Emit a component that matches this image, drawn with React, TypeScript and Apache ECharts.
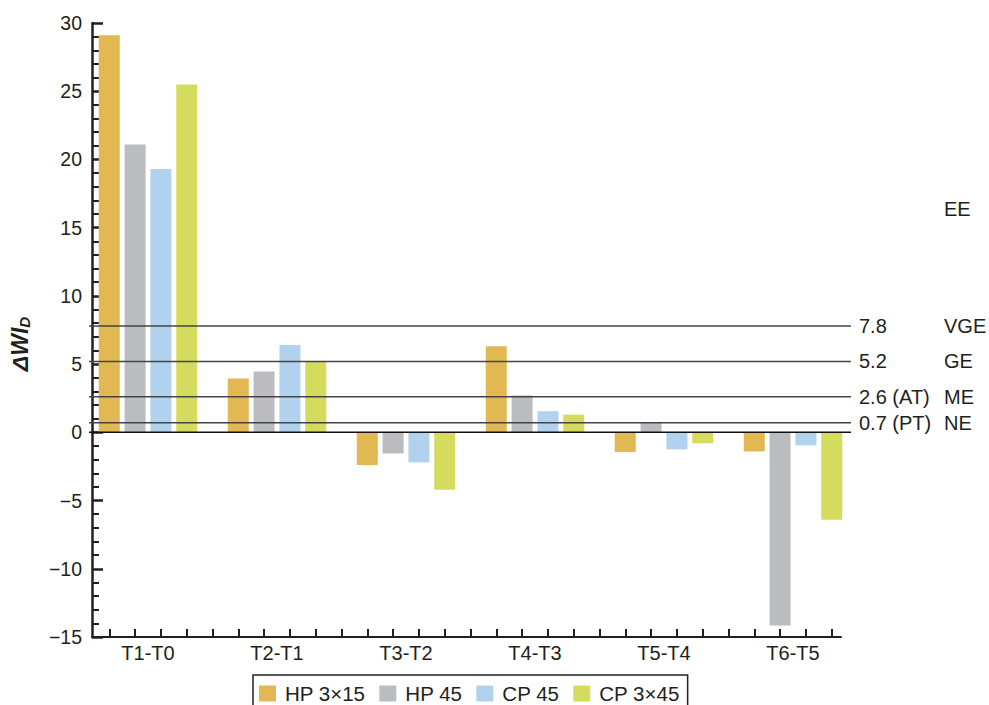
import React, { useEffect, useRef } from "react";
import * as echarts from "echarts";

const categories = ["T1-T0", "T2-T1", "T3-T2", "T4-T3", "T5-T4", "T6-T5"];
const seriesNames = ["HP 3×15", "HP 45", "CP 45", "CP 3×45"];
const hp315 = [29.1, 3.95, -2.4, 6.3, -1.45, -1.4];
const hp45 = [21.1, 4.45, -1.55, 2.7, 0.75, -14.15];
const cp45 = [19.3, 6.4, -2.2, 1.55, -1.25, -0.95];
const cp345 = [25.5, 5.2, -4.2, 1.3, -0.8, -6.4];
const seriesColors = ["#E1B852", "#BBBCC0", "#B0D2EE", "#D4DB5D"];
const refValues = [7.8, 5.2, 2.6, 0.7];
const refLabels = ["7.8", "5.2", "2.6 (AT)", "0.7 (PT)"];
const refClasses = ["VGE", "GE", "ME", "NE"];
const eeLevel = 16.4;
const eeLabel = "EE";
const yMin = -15;
const yMax = 30;
const yInterval = 5;

const FONT = "'Liberation Sans', Arial, Helvetica, sans-serif";
const INK = "#231f20";

export default function App() {
  const ref = useRef<HTMLDivElement>(null);
  useEffect(() => {
    if (!ref.current) return;
    const chart = echarts.init(ref.current, null, { renderer: "svg" });
    const values = [hp315, hp45, cp45, cp345];
    const top = 23;
    const height = 614;
    const barSeries = values.map((d, i) => ({
      name: seriesNames[i],
      type: "bar",
      xAxisIndex: 0,
      yAxisIndex: 0,
      data: d,
      barWidth: 21,
      barGap: "23%",
      itemStyle: { color: seriesColors[i] },
      z: 2,
    }));
    const refSeries = refValues.map((v, i) => ({
      type: "line",
      xAxisIndex: 3,
      yAxisIndex: 3,
      data: [
        [0, v],
        [1, v],
      ],
      symbol: "none",
      silent: true,
      lineStyle: { color: "#444", width: 1.5 },
      z: 5,
      endLabel: {
        show: true,
        distance: 8,
        formatter: () => `{a|${refLabels[i]}}{b|${refClasses[i]}}`,
        rich: {
          a: { width: 85, fontSize: 20, fontFamily: FONT, color: INK },
          b: { fontSize: 20, fontFamily: FONT, color: INK },
        },
      },
    }));
    const zeroSeries = {
      type: "line",
      xAxisIndex: 3,
      yAxisIndex: 3,
      data: [
        [0, 0],
        [1, 0],
      ],
      symbol: "none",
      silent: true,
      lineStyle: { color: "#111", width: 1.5 },
      z: 5,
    };
    const eeSeries = {
      type: "line",
      xAxisIndex: 3,
      yAxisIndex: 3,
      data: [
        [0, eeLevel],
        [1, eeLevel],
      ],
      symbol: "none",
      silent: true,
      lineStyle: { opacity: 0 },
      endLabel: {
        show: true,
        distance: 8,
        formatter: () => `{a|}{b|${eeLabel}}`,
        rich: {
          a: { width: 85, fontSize: 20, fontFamily: FONT },
          b: { fontSize: 20, fontFamily: FONT, color: INK },
        },
      },
    };
    const hiddenY = (gridIndex: number) => ({
      gridIndex,
      type: "value",
      min: yMin,
      max: yMax,
      interval: yInterval,
      show: false,
    });
    chart.setOption({
      animation: false,
      textStyle: { fontFamily: FONT },
      grid: [
        { left: 83.5, top, width: 774, height },
        { left: 89, top, width: 752, height },
        { left: 109.3, top, width: 722.4, height },
        { left: 89, top, width: 762, height },
      ],
      xAxis: [
        {
          gridIndex: 0,
          type: "category",
          data: categories,
          axisLine: { show: false },
          axisTick: { show: false },
          axisLabel: { fontSize: 20, margin: 6, color: INK, fontFamily: FONT },
        },
        {
          gridIndex: 1,
          type: "value",
          min: 0,
          max: 1,
          axisLine: { show: true, onZero: false, lineStyle: { color: INK, width: 2 } },
          axisTick: { show: false },
          axisLabel: { show: false },
          splitLine: { show: false },
        },
        {
          gridIndex: 2,
          type: "value",
          min: 0,
          max: 28,
          interval: 1,
          axisLine: { show: false, onZero: false },
          axisTick: { show: true, inside: true, length: 8, lineStyle: { color: INK, width: 2 } },
          axisLabel: { show: false },
          splitLine: { show: false },
        },
        { gridIndex: 3, type: "value", min: 0, max: 1, show: false },
      ],
      yAxis: [
        hiddenY(0),
        {
          gridIndex: 1,
          type: "value",
          min: yMin,
          max: yMax,
          interval: yInterval,
          name: "{a|ΔWI}{b|D}",
          nameLocation: "middle",
          nameGap: 60,
          nameTextStyle: {
            padding: [0, 28, 0, 0],
            rich: {
              a: { fontSize: 23, fontWeight: "bold", fontStyle: "italic", fontFamily: FONT, color: INK },
              b: { fontSize: 15, fontWeight: "bold", fontStyle: "italic", fontFamily: FONT, color: INK, padding: [10, 0, 0, 0] },
            },
          },
          axisLine: { show: true, onZero: false, lineStyle: { color: INK, width: 2.5 } },
          axisTick: { show: true, inside: true, length: 11, lineStyle: { color: INK, width: 2.5 } },
          minorTick: { show: true, splitNumber: 5, length: 7, lineStyle: { color: INK, width: 2 } },
          axisLabel: { fontSize: 19.5, color: INK, margin: 10, fontFamily: FONT, formatter: (v: number) => (v < 0 ? "\u2212" + Math.abs(v) : String(v)) },
          splitLine: { show: false },
        },
        hiddenY(2),
        hiddenY(3),
      ],
      legend: {
        data: seriesNames,
        left: 253,
        top: 675,
        orient: "horizontal",
        icon: "rect",
        itemWidth: 17,
        itemHeight: 16,
        itemGap: 14,
        borderColor: INK,
        borderWidth: 1.5,
        padding: [8, 8, 14, 6],
        textStyle: { fontSize: 20.5, color: INK, fontFamily: FONT, padding: [0, 0, 0, 4] },
      },
      series: [...barSeries, zeroSeries, ...refSeries, eeSeries],
    });
    return () => chart.dispose();
  }, []);
  return (
    <div
      ref={ref}
      style={{ position: "fixed", left: 0, top: 0, width: 989, height: 705, background: "#fff" }}
    />
  );
}
